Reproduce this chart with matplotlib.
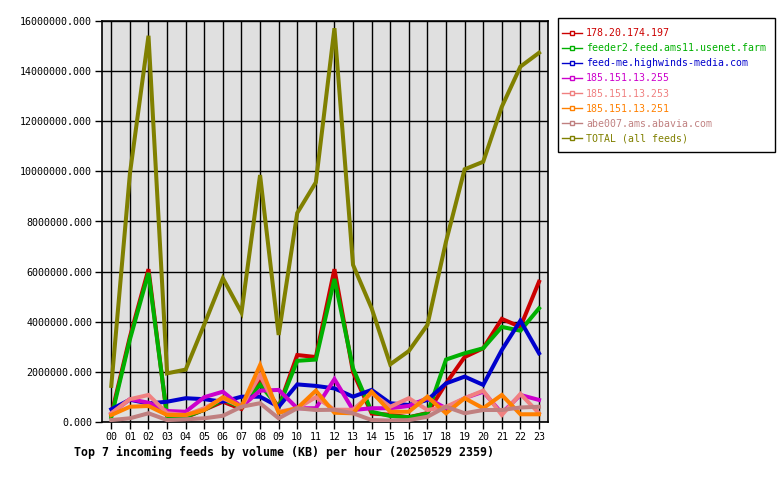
import matplotlib
matplotlib.use('Agg')
import matplotlib.pyplot as plt
from matplotlib.patches import Rectangle
from matplotlib.ticker import FuncFormatter, MultipleLocator

hours = ['%02d' % h for h in range(24)]

feeds = ['178.20.174.197', 'feeder2.feed.ams11.usenet.farm', 'feed-me.highwinds-media.com',
         '185.151.13.255', '185.151.13.253', '185.151.13.251', 'abe007.ams.abavia.com',
         'TOTAL (all feeds)']
colors = ['#cc0000', '#00b000', '#0000cc', '#cc00cc', '#f08080', '#ff8000', '#c08080', '#808000']

# KB per hour (millions)
red = [0.3, 3.4, 6.1, 0.2, 0.2, 0.5, 0.82, 0.53, 1.65, 0.6, 2.68, 2.6,
       6.1, 2.0, 0.35, 0.3, 0.2, 0.37, 1.55, 2.6, 2.95, 4.12, 3.8, 5.6]
green = [0.2, 3.3, 5.95, 0.25, 0.22, 0.5, 0.9, 0.6, 1.5, 0.6, 2.45, 2.5,
         5.71, 2.15, 0.42, 0.25, 0.2, 0.35, 2.5, 2.75, 2.95, 3.8, 3.65, 4.54]
blue = [0.52, 0.9, 0.75, 0.82, 0.96, 0.92, 0.82, 1.02, 1.02, 0.62, 1.51, 1.45,
        1.35, 1.02, 1.29, 0.76, 0.69, 0.89, 1.55, 1.82, 1.49, 2.88, 4.05, 2.75]
magenta = [0.35, 0.92, 0.78, 0.45, 0.42, 1.0, 1.22, 0.62, 1.26, 1.29, 0.56, 0.56,
           1.72, 0.49, 0.56, 0.56, 0.65, 0.96, 0.56, 0.96, 1.22, 0.36, 1.09, 0.89]
salmon = [0.36, 0.92, 1.09, 0.36, 0.29, 0.56, 0.96, 0.62, 1.88, 0.42, 0.56, 1.0,
          0.5, 0.5, 1.16, 0.62, 0.96, 0.49, 0.62, 0.96, 1.26, 0.29, 1.13, 0.36]
orange = [0.29, 0.62, 0.65, 0.29, 0.29, 0.49, 1.0, 0.62, 2.28, 0.38, 0.56, 1.26,
          0.38, 0.36, 1.22, 0.42, 0.42, 1.02, 0.36, 0.96, 0.56, 1.09, 0.32, 0.32]
brown = [0.09, 0.16, 0.36, 0.09, 0.12, 0.16, 0.26, 0.62, 0.76, 0.16, 0.56, 0.49,
         0.5, 0.36, 0.09, 0.07, 0.09, 0.22, 0.62, 0.36, 0.49, 0.49, 0.59, 0.62]
total = [1.45, 9.9, 15.4, 1.95, 2.1, 3.9, 5.74, 4.37, 9.85, 3.48, 8.34, 9.56,
         15.7, 6.27, 4.54, 2.31, 2.84, 3.88, 7.2, 10.08, 10.38, 12.57, 14.17, 14.72]

series = [red, green, blue, magenta, salmon, orange, brown, total]

mono = 'DejaVu Sans Mono'

fig = plt.figure(figsize=(7.8, 4.8), dpi=100)
ax = fig.add_axes([102 / 780, 1 - 422.3 / 480, (548.3 - 102) / 780, (422.3 - 20.7) / 480])
ax.set_facecolor('#e0e0e0')

x = list(range(24))
handles = []
for name, vals, c in zip(feeds, series, colors):
    ax.plot(x, [v * 1e6 for v in vals], color=c, linewidth=2.9, solid_joinstyle='miter', zorder=3)
    # legend handle: thin line with a small open square
    h, = ax.plot([], [], color=c, linewidth=1, marker='s', markersize=3,
                 markerfacecolor='white', markeredgecolor=c)
    handles.append(h)

ax.set_xlim(-0.5, 23.5)
ax.set_ylim(0, 16e6)
ax.set_xticks(x)
ax.set_xticklabels(hours)
ax.yaxis.set_major_locator(MultipleLocator(2e6))
ax.yaxis.set_major_formatter(FuncFormatter(lambda v, _: '%.3f' % v))
ax.grid(True, color='black', linewidth=1, zorder=1)
ax.set_axisbelow(True)
for s in ax.spines.values():
    s.set_linewidth(1.2)
ax.tick_params(length=5, width=1, labelsize=7.2, pad=2)
for lab in ax.get_xticklabels() + ax.get_yticklabels():
    lab.set_family(mono)

# legend box drawn by hand so the padding matches
fig.patches.append(Rectangle((558 / 780, 1 - 152 / 480), 217 / 780, 134 / 480,
                             transform=fig.transFigure, facecolor='white',
                             edgecolor='black', linewidth=1))
leg = fig.legend(handles, feeds, loc='upper left', bbox_to_anchor=(562 / 780, 1 - 28 / 480),
                 prop={'family': mono, 'size': 7.1}, handlelength=2.03, handletextpad=0.4,
                 labelspacing=0.52, borderpad=0, frameon=False, borderaxespad=0)
for t, c in zip(leg.get_texts(), colors):
    t.set_color(c)

fig.text(74 / 780, 1 - 452 / 480, 'Top 7 incoming feeds by volume (KB) per hour (20250529 2359)',
         family=mono, weight='bold', size=8.4, va='center', ha='left')

fig.savefig('out.png', dpi=100)
